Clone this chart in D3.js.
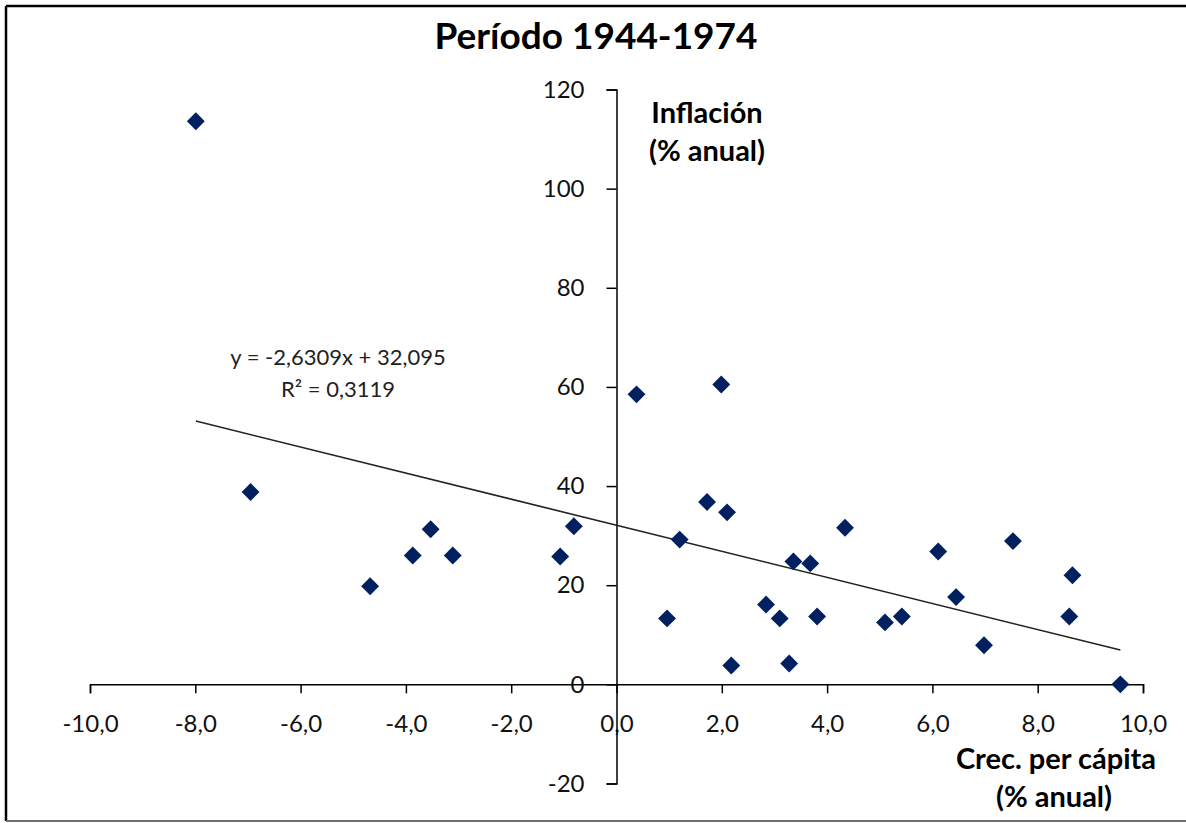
<!DOCTYPE html>
<html>
<head>
<meta charset="utf-8">
<script src="https://cdn.jsdelivr.net/npm/d3@7"></script>
<style>
  body { margin: 0; background: #fff; }
  svg { display: block; font-family: Lato, "Open Sans", sans-serif; }
</style>
</head>
<body>
<svg width="1186" height="823"></svg>
<script>
// Crecimiento per cápita (% anual) e inflación (% anual), 1944-1974
const growth = [-7.99, -6.95, -4.68, -3.87, -3.53, -3.11, -1.07, -0.81, 0.38, 1.99,
  0.96, 1.20, 1.72, 2.10, 2.18, 2.84, 3.10, 3.28, 3.36, 3.68,
  3.81, 4.34, 5.10, 5.42, 6.11, 6.45, 6.98, 7.53, 8.66, 8.60, 9.57];
const inflation = [113.6, 38.8, 19.8, 26.0, 31.3, 26.0, 25.8, 31.9, 58.5, 60.5,
  13.3, 29.2, 36.8, 34.7, 3.8, 16.1, 13.3, 4.2, 24.8, 24.4,
  13.7, 31.6, 12.5, 13.7, 26.8, 17.6, 7.9, 28.9, 22.0, 13.7, 0.0];

const xTicks = [-10, -8, -6, -4, -2, 0, 2, 4, 6, 8, 10];
const yTicks = [-20, 0, 20, 40, 60, 80, 100, 120];

// tendencia lineal (Excel)
const slope = -2.6309, intercept = 32.095;
const eqLines = ["y = -2,6309x + 32,095", "R² = 0,3119"];

const svg = d3.select("svg");

// marco del gráfico
svg.append("line").attr("x1", 6).attr("y1", 6).attr("x2", 1186).attr("y2", 6)
  .attr("stroke", "#000").attr("stroke-width", 2.5);
svg.append("line").attr("x1", 6).attr("y1", 6).attr("x2", 6).attr("y2", 821)
  .attr("stroke", "#000").attr("stroke-width", 2.5);
svg.append("line").attr("x1", 6).attr("y1", 821).attr("x2", 1186).attr("y2", 821)
  .attr("stroke", "#6e6e6e").attr("stroke-width", 2);

const x = d3.scaleLinear().domain([-10, 10]).range([90, 1143]);
const y = d3.scaleLinear().domain([-20, 120]).range([783.5, 89.5]);

const es = d3.formatLocale({ decimal: ",", thousands: ".", grouping: [3], currency: ["", "€"], minus: "-" });
const fmt1 = es.format(".1f");
const fmt0 = es.format("d");

// Eje X
const gx = svg.append("g")
  .attr("transform", `translate(0,${y(0)})`)
  .call(d3.axisBottom(x).tickValues(xTicks).tickFormat(fmt1).tickSizeOuter(0).tickSize(9).tickPadding(22))
  .attr("font-family", null).attr("font-size", null);
gx.select(".domain").attr("stroke", "#000").attr("stroke-width", 1.5);
gx.selectAll(".tick line").attr("stroke", "#000").attr("stroke-width", 1.5);
gx.selectAll(".tick text").attr("fill", "#111").style("font-size", "24px");

// Eje Y
const gy = svg.append("g")
  .attr("transform", `translate(${x(0)},0)`)
  .call(d3.axisLeft(y).tickValues(yTicks).tickFormat(fmt0).tickSizeOuter(0).tickSize(10).tickPadding(22))
  .attr("font-family", null).attr("font-size", null);
gy.select(".domain").attr("stroke", "#000").attr("stroke-width", 1.5);
gy.selectAll(".tick line").attr("stroke", "#000").attr("stroke-width", 1.5);
gy.selectAll(".tick text").attr("fill", "#111").style("font-size", "24px");

// Línea de tendencia
const xr = d3.extent(growth);
svg.append("path")
  .datum(xr)
  .attr("d", d3.line().x(d => x(d)).y(d => y(slope * d + intercept)))
  .attr("stroke", "#222")
  .attr("stroke-width", 1.6)
  .attr("fill", "none");

// Puntos
const pts = growth.map((g, i) => ({ g, inf: inflation[i] }));
svg.append("g").selectAll("path")
  .data(pts)
  .enter()
  .append("path")
  .attr("d", d3.symbol(d3.symbolSquare, 160))
  .attr("transform", d => `translate(${x(d.g)},${y(d.inf)}) rotate(45)`)
  .attr("fill", "#002060");

// Ecuación
svg.append("text")
  .attr("x", 338).attr("y", 365)
  .attr("text-anchor", "middle")
  .style("font-size", "22px").attr("fill", "#222")
  .text(eqLines[0]);
svg.append("text")
  .attr("x", 338).attr("y", 397)
  .attr("text-anchor", "middle")
  .style("font-size", "22px").attr("fill", "#222")
  .text(eqLines[1]);

// Título
svg.append("text")
  .attr("x", 596).attr("y", 49)
  .attr("text-anchor", "middle")
  .style("font-size", "37px").attr("font-weight", "bold").attr("fill", "#000")
  .text("Período 1944-1974");

// Títulos de ejes
const yTitle = svg.append("text")
  .attr("text-anchor", "middle")
  .style("font-size", "29px").attr("font-weight", "bold").attr("fill", "#000");
yTitle.append("tspan").attr("x", 707).attr("y", 123).text("Inflación");
yTitle.append("tspan").attr("x", 707).attr("y", 161).text("(% anual)");

const xTitle = svg.append("text")
  .attr("text-anchor", "middle")
  .style("font-size", "29px").attr("font-weight", "bold").attr("fill", "#000");
xTitle.append("tspan").attr("x", 1056).attr("y", 769).text("Crec. per cápita");
xTitle.append("tspan").attr("x", 1054).attr("y", 807).text("(% anual)");
</script>
</body>
</html>
